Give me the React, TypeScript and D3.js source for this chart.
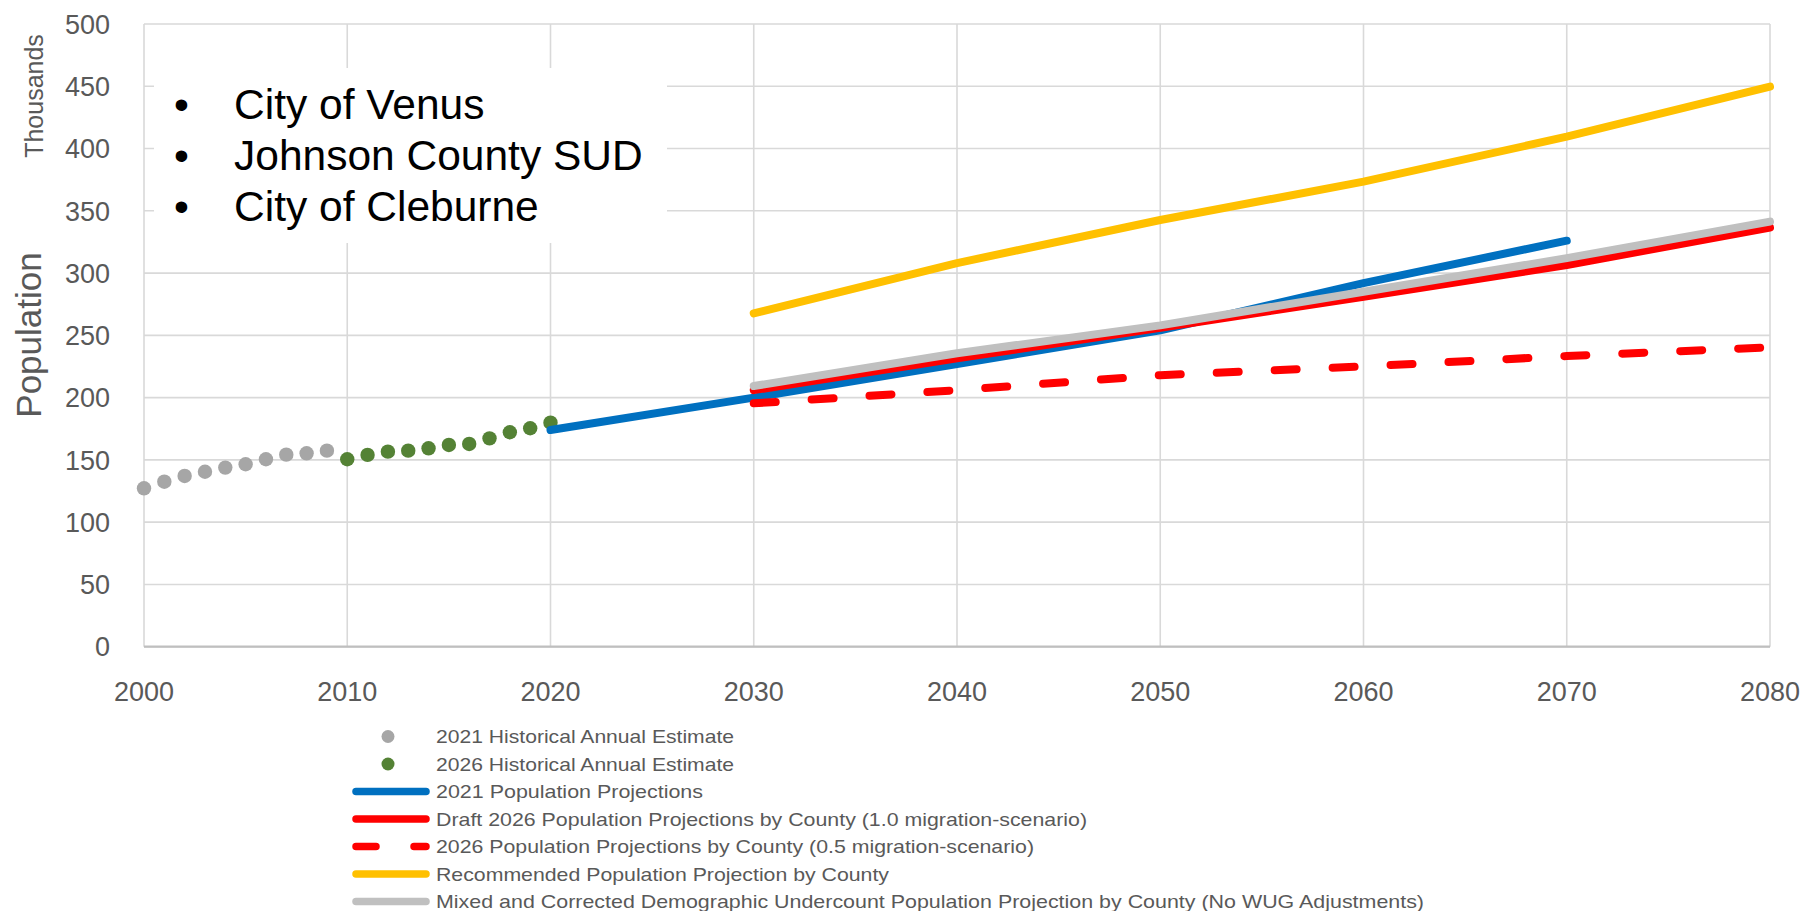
import React from "react";
import * as d3 from "d3";

// ---------- Data (thousands) ----------
const hist2021Years = [2000, 2001, 2002, 2003, 2004, 2005, 2006, 2007, 2008, 2009];
const hist2021Values = [127.2, 132.5, 137.1, 140.5, 143.8, 146.5, 150.5, 154.2, 155.3, 157.4];

const hist2026Years = [2010, 2011, 2012, 2013, 2014, 2015, 2016, 2017, 2018, 2019, 2020];
const hist2026Values = [150.5, 154.0, 156.6, 157.4, 159.3, 162.0, 162.8, 167.3, 172.2, 175.4, 179.9];

const proj2021Years = [2020, 2030, 2040, 2050, 2060, 2070];
const proj2021Values = [174, 200, 227, 254, 292, 326];

const decadeYears = [2030, 2040, 2050, 2060, 2070, 2080];
const draft2026Values = [206, 231.5, 256, 281, 306.5, 336.5];
const scenario05Values = [195.4, 206, 218, 225, 233.4, 240.4];
const recommendedValues = [267.7, 308, 342.6, 373.4, 409.5, 449.7];
const mixedValues = [209.3, 235.6, 258, 285, 312, 341.3];

const xTicks = [2000, 2010, 2020, 2030, 2040, 2050, 2060, 2070, 2080];
const yTicks = [0, 50, 100, 150, 200, 250, 300, 350, 400, 450, 500];

const bulletItems = ["City of Venus", "Johnson County SUD", "City of Cleburne"];

const legendLabels = [
  "2021 Historical Annual Estimate",
  "2026 Historical Annual Estimate",
  "2021 Population Projections",
  "Draft 2026 Population Projections by County (1.0 migration-scenario)",
  "2026 Population Projections by County (0.5 migration-scenario)",
  "Recommended Population Projection by County",
  "Mixed and Corrected Demographic Undercount Population Projection by County (No WUG Adjustments)",
];

// ---------- Styles ----------
const C_GRAYDOT = "#a6a6a6";
const C_GREEN = "#548235";
const C_BLUE = "#0070c0";
const C_RED = "#ff0000";
const C_YELLOW = "#ffc000";
const C_GRAYLINE = "#c0c0c0";
const TXT = "#595959";
const FONT = "'Liberation Sans', Arial, sans-serif";
const DASH = "22,36";

type LegendKind = { type: "dot" | "line"; color: string; dash?: string; textLength: number };
const legendStyles: LegendKind[] = [
  { type: "dot", color: C_GRAYDOT, textLength: 298 },
  { type: "dot", color: C_GREEN, textLength: 298 },
  { type: "line", color: C_BLUE, textLength: 267 },
  { type: "line", color: C_RED, textLength: 651 },
  { type: "line", color: C_RED, dash: "20,38", textLength: 598 },
  { type: "line", color: C_YELLOW, textLength: 453 },
  { type: "line", color: C_GRAYLINE, textLength: 988 },
];

export default function App() {
  const W = 1813;
  const H = 911;
  const x = d3.scaleLinear().domain([2000, 2080]).range([144, 1770]);
  const y = d3.scaleLinear().domain([0, 500]).range([646.7, 24]);

  const line = d3
    .line<[number, number]>()
    .x((d) => x(d[0]))
    .y((d) => y(d[1]));

  const zip = (xs: number[], vs: number[]) => xs.map((v, i) => [v, vs[i]] as [number, number]);

  const series = [
    { pts: zip(proj2021Years, proj2021Values), color: C_BLUE },
    { pts: zip(decadeYears, draft2026Values), color: C_RED },
    { pts: zip(decadeYears, scenario05Values), color: C_RED, dash: DASH },
    { pts: zip(decadeYears, recommendedValues), color: C_YELLOW },
    { pts: zip(decadeYears, mixedValues), color: C_GRAYLINE },
  ];

  const SW = 8;

  return (
    <svg
      width={W}
      height={H}
      style={{ position: "absolute", left: 0, top: 0, display: "block", background: "#fff" }}
      fontFamily={FONT}
    >
      <rect x={0} y={0} width={W} height={H} fill="#fff" />
      {/* gridlines */}
      {yTicks.map((t) => (
        <line key={"gy" + t} x1={x(2000)} x2={x(2080)} y1={y(t)} y2={y(t)} stroke="#d9d9d9" strokeWidth={1.6} />
      ))}
      {xTicks.map((t) => (
        <line key={"gx" + t} x1={x(t)} x2={x(t)} y1={y(500)} y2={y(0)} stroke="#d9d9d9" strokeWidth={1.6} />
      ))}
      <line x1={x(2000)} x2={x(2080)} y1={y(0)} y2={y(0)} stroke="#bfbfbf" strokeWidth={2.2} />

      {/* white text box */}
      <rect x={154} y={68} width={513} height={175} fill="#fff" />
      {bulletItems.map((s, i) => (
        <g key={s} fontSize={42.5} fill="#000">
          <text x={174} y={119 + i * 51}>•</text>
          <text x={234} y={119 + i * 51}>{s}</text>
        </g>
      ))}

      {/* y tick labels */}
      {yTicks.map((t) => (
        <text key={"ty" + t} x={110} y={y(t)} dy="0.36em" textAnchor="end" fontSize={27} fill={TXT}>
          {t}
        </text>
      ))}
      {/* x tick labels */}
      {xTicks.map((t) => (
        <text key={"tx" + t} x={x(t)} y={701} textAnchor="middle" fontSize={27} fill={TXT}>
          {t}
        </text>
      ))}

      {/* axis titles */}
      <text transform="translate(43,96) rotate(-90)" textAnchor="middle" fontSize={25} fill={TXT}>
        Thousands
      </text>
      <text transform="translate(41,335) rotate(-90)" textAnchor="middle" fontSize={35} fill={TXT}>
        Population
      </text>

      {/* historical dots */}
      {zip(hist2021Years, hist2021Values).map((d) => (
        <circle key={"h1" + d[0]} cx={x(d[0])} cy={y(d[1])} r={7.2} fill={C_GRAYDOT} />
      ))}
      {zip(hist2026Years, hist2026Values).map((d) => (
        <circle key={"h2" + d[0]} cx={x(d[0])} cy={y(d[1])} r={7.2} fill={C_GREEN} />
      ))}

      {/* projection lines */}
      {series.map((s, i) => (
        <path
          key={"s" + i}
          d={line(s.pts) || ""}
          fill="none"
          stroke={s.color}
          strokeWidth={SW}
          strokeLinecap="round"
          strokeLinejoin="round"
          strokeDasharray={s.dash}
        />
      ))}

      {/* legend */}
      {legendLabels.map((lab, i) => {
        const st = legendStyles[i];
        const cy = 736.5 + i * 27.5;
        return (
          <g key={"lg" + i}>
            {st.type === "dot" ? (
              <circle cx={388} cy={cy} r={6.5} fill={st.color} />
            ) : (
              <line
                x1={356}
                x2={426}
                y1={cy}
                y2={cy}
                stroke={st.color}
                strokeWidth={7.5}
                strokeLinecap="round"
                strokeDasharray={st.dash}
              />
            )}
            <text
              x={436}
              y={cy}
              dy="0.35em"
              fontSize={19}
              fill={TXT}
              textLength={st.textLength}
              lengthAdjust="spacingAndGlyphs"
            >
              {lab}
            </text>
          </g>
        );
      })}
    </svg>
  );
}
